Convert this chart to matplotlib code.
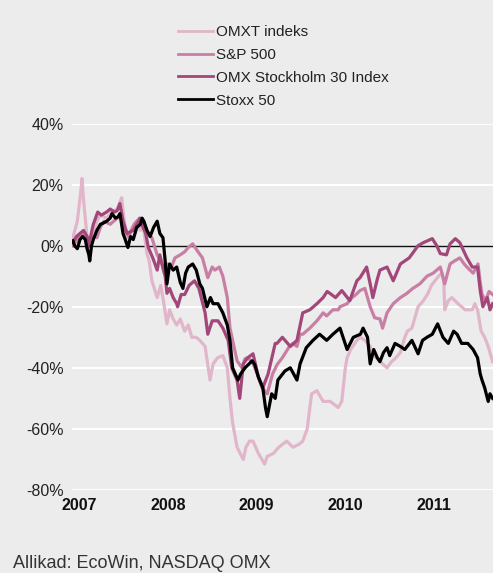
import matplotlib
matplotlib.use("Agg")
import matplotlib.pyplot as plt
from matplotlib.lines import Line2D

plt.rcParams['font.family'] = ['Liberation Sans', 'DejaVu Sans']

# ---- data (decimal year, % change) ----
omxt_x = [2007.01, 2007.06, 2007.10, 2007.113, 2007.13, 2007.146, 2007.17, 2007.20, 2007.24, 2007.28,
          2007.32, 2007.39, 2007.45, 2007.51, 2007.56, 2007.58, 2007.62, 2007.68, 2007.73, 2007.77,
          2007.80, 2007.845, 2007.87, 2007.90, 2007.96, 2008.0, 2008.03, 2008.07, 2008.10, 2008.14,
          2008.18, 2008.22, 2008.27, 2008.31, 2008.35, 2008.40, 2008.44, 2008.50, 2008.555, 2008.59,
          2008.64, 2008.70, 2008.75, 2008.78, 2008.81, 2008.86, 2008.93, 2008.96, 2009.0, 2009.04,
          2009.10, 2009.17, 2009.20, 2009.27, 2009.33, 2009.42, 2009.49, 2009.56, 2009.60, 2009.65,
          2009.70, 2009.76, 2009.83, 2009.91, 2010.0, 2010.04, 2010.08, 2010.10, 2010.14, 2010.21,
          2010.25, 2010.30, 2010.36, 2010.40, 2010.44, 2010.50, 2010.55, 2010.60, 2010.64, 2010.70,
          2010.75, 2010.78, 2010.83, 2010.90, 2010.96, 2011.01, 2011.05, 2011.09, 2011.13, 2011.17,
          2011.19, 2011.20, 2011.24, 2011.28, 2011.35, 2011.43, 2011.51, 2011.54, 2011.57, 2011.61,
          2011.65, 2011.69, 2011.74]
omxt_y = [2.6, 8, 18, 22, 15, 10, 3, 2, 4, 8,
          10, 9, 11, 12, 15.7, 10, 2.6, 6, 8, 5,
          7, -2.6, -5, -11.5, -17, -13, -18, -25.6, -21, -24,
          -26, -24, -28, -26, -30, -30, -31, -33, -44, -38.7,
          -36.7, -36, -40, -50, -58, -66, -70, -66, -64, -64,
          -68, -71.5, -69, -68, -66, -64, -66, -65, -64, -60,
          -48.5, -47.5, -51, -51, -53, -51, -40, -36.7, -34, -31,
          -30, -31, -33, -36, -37, -38.7, -40, -38, -37, -35,
          -30, -28, -27, -20, -18, -15.7, -13, -11.5, -10, -9,
          -12, -21, -18, -17, -19, -21, -21, -19, -21, -28,
          -30, -33, -38]

sp_x = [2007.01, 2007.06, 2007.11, 2007.17, 2007.20, 2007.25, 2007.28, 2007.32, 2007.36, 2007.43,
        2007.51, 2007.56, 2007.60, 2007.64, 2007.70, 2007.76, 2007.79, 2007.84, 2007.90, 2007.96,
        2008.0, 2008.04, 2008.08, 2008.12, 2008.16, 2008.22, 2008.27, 2008.31, 2008.36, 2008.42,
        2008.47, 2008.53, 2008.58, 2008.61, 2008.66, 2008.70, 2008.75, 2008.78, 2008.81, 2008.86,
        2008.915, 2008.95, 2008.98, 2009.03, 2009.06, 2009.10, 2009.14, 2009.20, 2009.26, 2009.31,
        2009.37, 2009.45, 2009.49, 2009.535, 2009.57, 2009.60, 2009.68, 2009.76, 2009.83, 2009.87,
        2009.94, 2010.0, 2010.02, 2010.10, 2010.155, 2010.20, 2010.245, 2010.30, 2010.36, 2010.41,
        2010.47, 2010.50, 2010.55, 2010.62, 2010.70, 2010.77, 2010.84, 2010.92, 2011.0, 2011.07,
        2011.15, 2011.20, 2011.26, 2011.31, 2011.37, 2011.42, 2011.45, 2011.52, 2011.575, 2011.60,
        2011.62, 2011.66, 2011.70, 2011.74]
sp_y = [0, 2, 4, 1, 2.6, 3, 2.6, 6, 8, 7,
        9, 10, 5, 3, 7, 9, 8, 5, 2.6, -3,
        -5, -8, -6, -7, -4, -3, -2, -0.6, 0.6, -2,
        -4, -10.5, -7, -8, -7, -10, -17, -27, -31, -37.7,
        -40, -37, -36.7, -38, -40, -43, -46.5, -48.5, -42, -39,
        -36.7, -33, -32, -33, -29, -29, -27, -24.6, -22, -23,
        -21, -21, -20, -19, -17, -16, -14.7, -14, -20, -23.6,
        -24, -27, -22, -19, -17, -15.7, -14, -12.5, -10, -9,
        -7, -12.5, -6, -5, -4, -6, -7, -9, -6, -12,
        -16, -18, -15, -16]

omx_x = [2007.01, 2007.05, 2007.09, 2007.13, 2007.17, 2007.18, 2007.21, 2007.24, 2007.29, 2007.33,
         2007.39, 2007.43, 2007.48, 2007.51, 2007.54, 2007.575, 2007.62, 2007.69, 2007.73, 2007.77,
         2007.80, 2007.83, 2007.86, 2007.91, 2007.96, 2007.99, 2008.03, 2008.05, 2008.07, 2008.10,
         2008.14, 2008.18, 2008.19, 2008.23, 2008.27, 2008.32, 2008.38, 2008.43, 2008.50, 2008.53,
         2008.58, 2008.645, 2008.70, 2008.76, 2008.80, 2008.86, 2008.89, 2008.93, 2008.98, 2009.04,
         2009.10, 2009.15, 2009.21, 2009.29, 2009.31, 2009.37, 2009.46, 2009.535, 2009.60, 2009.68,
         2009.76, 2009.83, 2009.875, 2009.91, 2009.97, 2010.04, 2010.13, 2010.21, 2010.245, 2010.32,
         2010.36, 2010.39, 2010.44, 2010.47, 2010.55, 2010.62, 2010.70, 2010.80, 2010.90, 2010.96,
         2011.06, 2011.11, 2011.15, 2011.22, 2011.26, 2011.32, 2011.37, 2011.45, 2011.51, 2011.57,
         2011.60, 2011.63, 2011.68, 2011.71, 2011.74]
omx_y = [1, 3, 4, 5, 3, -0.6, 3, 7, 11, 10,
         11, 12, 11, 11.5, 13.8, 8, 4, 5, 7, 9,
         6, 4, -0.6, -4, -8, -3, -8, -10, -15.6, -14,
         -17, -19, -20, -16, -16, -13, -11.5, -14, -22, -29,
         -24.6, -24.6, -27, -31, -40, -44, -50, -38.7, -36.7, -35.4,
         -43, -46.5, -42, -32, -32, -30, -33, -31, -22, -21,
         -19, -17, -15, -15.7, -17, -14.7, -18, -11.5, -10.5, -7,
         -12.5, -17, -11, -8, -7, -11.5, -6, -4, 0, 1,
         2.3, 0, -2.6, -3, 0.6, 2.3, 1, -4, -7, -7,
         -14.7, -20, -17, -21, -19]

stoxx_x = [2007.01, 2007.03, 2007.06, 2007.09, 2007.12, 2007.15, 2007.17, 2007.19, 2007.20, 2007.22,
           2007.24, 2007.28, 2007.32, 2007.36, 2007.39, 2007.43, 2007.45, 2007.49, 2007.52, 2007.54,
           2007.575, 2007.60, 2007.63, 2007.66, 2007.69, 2007.73, 2007.77, 2007.79, 2007.81, 2007.845,
           2007.88, 2007.92, 2007.96, 2007.99, 2008.025, 2008.05, 2008.07, 2008.10, 2008.14, 2008.18,
           2008.22, 2008.25, 2008.28, 2008.31, 2008.36, 2008.40, 2008.44, 2008.47, 2008.52, 2008.56,
           2008.59, 2008.645, 2008.70, 2008.75, 2008.78, 2008.81, 2008.87, 2008.90, 2008.95, 2009.03,
           2009.06, 2009.10, 2009.15, 2009.18, 2009.20, 2009.25, 2009.29, 2009.32, 2009.40, 2009.46,
           2009.535, 2009.57, 2009.64, 2009.715, 2009.79, 2009.87, 2009.94, 2010.02, 2010.10, 2010.17,
           2010.25, 2010.28, 2010.33, 2010.36, 2010.40, 2010.44, 2010.47, 2010.51, 2010.55, 2010.58,
           2010.64, 2010.70, 2010.75, 2010.83, 2010.90, 2010.95, 2011.0, 2011.06, 2011.12, 2011.18,
           2011.24, 2011.30, 2011.34, 2011.39, 2011.46, 2011.52, 2011.57, 2011.60, 2011.62, 2011.65,
           2011.69, 2011.71, 2011.74]
stoxx_y = [1.6, 0, -1, 2, 3, 2, -1, -3, -5, 0,
           2, 5, 7, 7.5, 8, 9, 10.5, 9, 9.5, 10.5,
           4, 2, -0.6, 3, 2, 6, 7, 9, 8, 5,
           3, 6, 8, 4, 2.6, -5, -12.5, -6, -8, -7,
           -12, -14, -9, -7, -6, -8, -12.5, -14, -20, -17,
           -19, -19, -22, -26, -31, -40, -44, -42, -40, -37.7,
           -39, -43, -46.5, -53, -56, -48.5, -50, -44, -41, -40,
           -44, -38.7, -33.4, -31, -29, -31, -29, -27, -34, -30,
           -29, -27, -30, -38.7, -34, -36.7, -38, -35, -33.4, -36,
           -32, -33, -34, -31, -35.4, -31, -30, -29, -25.6, -30,
           -32, -28, -29, -32, -32, -34, -36.7, -42, -44, -46.5,
           -51, -48.5, -50]

series_labels = ["OMXT indeks", "S&P 500", "OMX Stockholm 30 Index", "Stoxx 50"]
series_colors = ["#e2b6ca", "#c97ea4", "#a3477a", "#000000"]
years = [2007, 2008, 2009, 2010, 2011]
y_ticks = [-80, -60, -40, -20, 0, 20, 40]
source_text = "Allikad: EcoWin, NASDAQ OMX"

BG = "#ebeceb"
fig = plt.figure(figsize=(4.93, 5.73), dpi=100, facecolor=BG)
ax = fig.add_axes([72/493, 1-490/573, 1-72/493, (490-123.5)/573])
ax.set_facecolor(BG)

for yt in y_ticks:
    if yt == 0:
        continue
    ax.axhline(yt, color="white", lw=1.4, zorder=1)
ax.axhline(0, color="#111111", lw=1.0, zorder=2)

data = [(omxt_x, omxt_y), (sp_x, sp_y), (omx_x, omx_y), (stoxx_x, stoxx_y)]
for (xs, ys), c, lab in zip(data, series_colors, series_labels):
    ax.plot(xs, ys, color=c, lw=2.3, zorder=3, label=lab)

ax.set_xlim(2007.0, 2011.744)
ax.set_ylim(-80, 40)
ax.set_yticks(y_ticks)
ax.set_yticklabels([f"{v}%" for v in y_ticks])
ax.set_xticks([y + 0.08 for y in years])
ax.set_xticklabels([str(y) for y in years], fontweight="bold")
ax.tick_params(axis="y", length=0, pad=6, labelsize=11.5, labelcolor="#222222")
ax.tick_params(axis="x", length=0, pad=6, labelsize=11.5, labelcolor="#111111")
for s in ax.spines.values():
    s.set_visible(False)

handles = [Line2D([], [], color=c, lw=2.0) for c in series_colors]
fig.legend(handles, series_labels, loc="upper left",
           bbox_to_anchor=(178/493, 1-25/573), frameon=False,
           fontsize=11, handlelength=2.3, handletextpad=0.2,
           labelspacing=0.58, borderaxespad=0, borderpad=0,
           labelcolor="#222222")

fig.text(13/493, 1-564/573, source_text, fontsize=13, color="#333333",
         ha="left", va="center")

fig.savefig("out.png", dpi=100, facecolor=BG)
